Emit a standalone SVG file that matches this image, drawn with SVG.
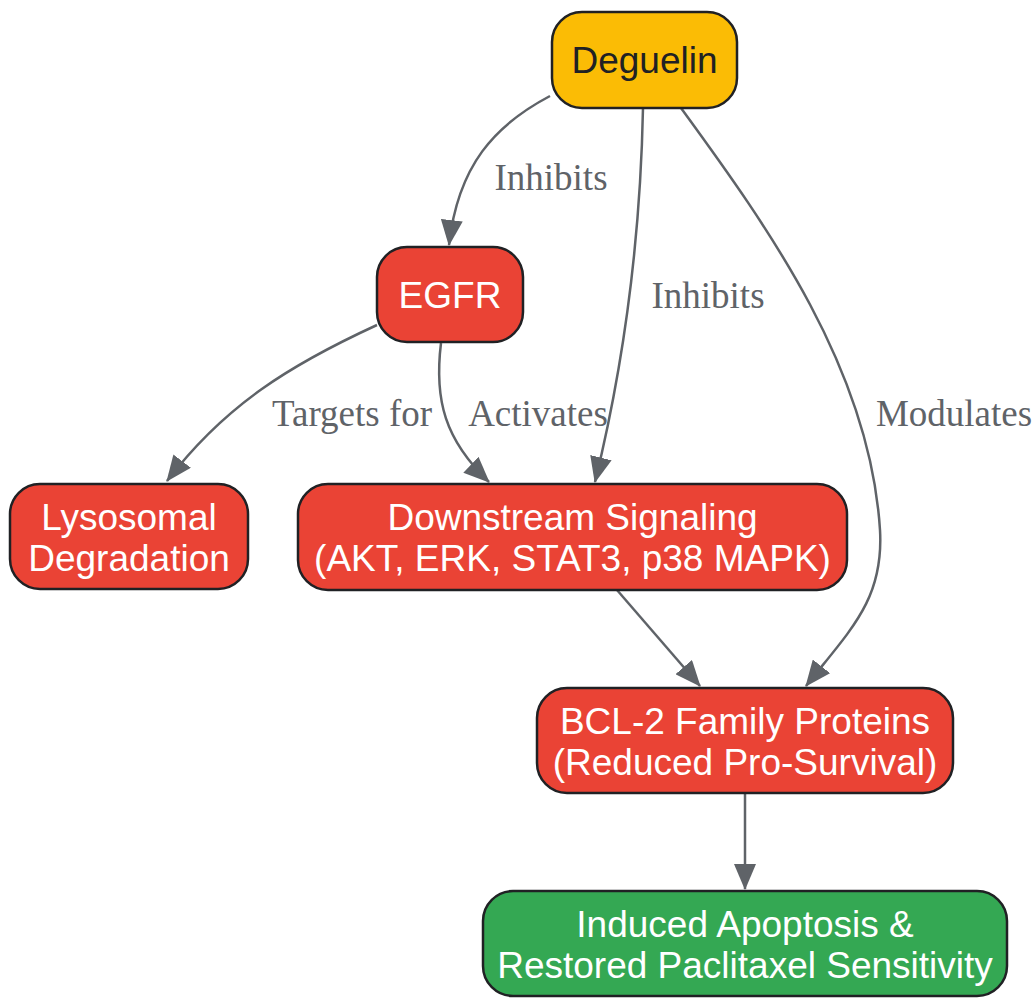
<svg xmlns="http://www.w3.org/2000/svg" width="1035" height="998" viewBox="0 0 1035 998">
<style>
.node rect{stroke:#202124;stroke-width:2.5}
.red rect{fill:#EA4335}
.yel rect{fill:#FBBC05}
.grn rect{fill:#34A853}
.node text{font-family:"Liberation Sans",Arial,sans-serif;font-size:37px;text-anchor:middle;fill:#ffffff}
.yel text{fill:#202124}
.edges path{fill:none;stroke:#5f6368;stroke-width:2.5;marker-end:url(#arr)}
.lbl{font-family:"Liberation Serif","Times New Roman",serif;font-size:37px;fill:#5f6368;text-anchor:middle}
</style>
<defs>
<marker id="arr" markerUnits="userSpaceOnUse" markerWidth="26" markerHeight="22" refX="25" refY="11" orient="auto">
<path d="M0,0 L26,11 L0,22 z" fill="#5f6368"/>
</marker>
</defs>
<rect width="1035" height="998" fill="#ffffff"/>
<g class="edges" id="edges">
<path d="M550,96 C495,125 458,165 449,245"/>
<path d="M643,108 C640,260 620,380 595,482"/>
<path d="M441,343 C434,400 445,440 489,482"/>
<path d="M377,325 C290,365 225,405 167,481"/>
<path d="M681,108 C770,230 870,370 880,530 C884,600 850,630 806,686"/>
<path d="M617,590 L700,686"/>
<path d="M745,793 L745,889"/>
</g>
<g id="labels">
<text class="lbl" x="551" y="190">Inhibits</text>
<text class="lbl" x="708" y="308">Inhibits</text>
<text class="lbl" x="352" y="426">Targets for</text>
<text class="lbl" x="538" y="426">Activates</text>
<text class="lbl" x="954" y="426">Modulates</text>
</g>
<g id="deguelin" class="node yel">
<rect x="552" y="12" width="185" height="96" rx="30"/>
<text x="644.5" y="73">Deguelin</text>
</g>
<g id="egfr" class="node red">
<rect x="377" y="247" width="146" height="95" rx="30"/>
<text x="450" y="308">EGFR</text>
</g>
<g id="lysosomal" class="node red">
<rect x="10" y="484" width="238" height="105" rx="30"/>
<text x="129" y="530">Lysosomal</text>
<text x="129" y="571">Degradation</text>
</g>
<g id="downstream" class="node red">
<rect x="298" y="484" width="549" height="106" rx="30"/>
<text x="572.5" y="530">Downstream Signaling</text>
<text x="572.5" y="571">(AKT, ERK, STAT3, p38 MAPK)</text>
</g>
<g id="bcl2" class="node red">
<rect x="537" y="688" width="416" height="105" rx="30"/>
<text x="745" y="734">BCL-2 Family Proteins</text>
<text x="745" y="775">(Reduced Pro-Survival)</text>
</g>
<g id="outcome" class="node grn">
<rect x="483" y="891" width="524" height="105" rx="30"/>
<text x="745" y="937">Induced Apoptosis &amp;</text>
<text x="745" y="978">Restored Paclitaxel Sensitivity</text>
</g>
</svg>
